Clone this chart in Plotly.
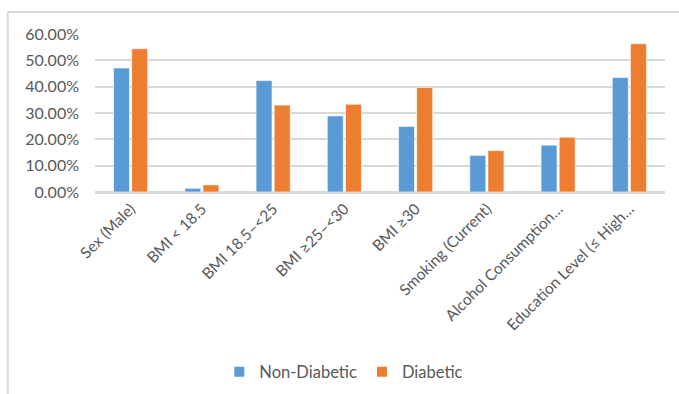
import plotly.graph_objects as go

categories = [
    "Sex (Male)",
    "BMI < 18.5",
    "BMI 18.5–<25",
    "BMI ≥25–<30",
    "BMI ≥30",
    "Smoking (Current)",
    "Alcohol Consumption…",
    "Education Level (≤ High…",
]
non_diabetic = [0.471, 0.014, 0.423, 0.289, 0.249, 0.139, 0.178, 0.435]
diabetic = [0.544, 0.027, 0.330, 0.333, 0.397, 0.157, 0.208, 0.563]

BLUE = "#5B9BD5"
ORANGE = "#ED7D31"
GRID = "#d9d9d9"
TEXT = "#595959"
FONT = "Lato, 'Liberation Sans', sans-serif"

fig = go.Figure()
fig.add_trace(go.Bar(name="Non-Diabetic", x=categories, y=non_diabetic,
                     marker=dict(color=BLUE, line=dict(color="white", width=0.6))))
fig.add_trace(go.Bar(name="Diabetic", x=categories, y=diabetic,
                     marker=dict(color=ORANGE, line=dict(color="white", width=0.6))))

# chart-area frame (top and left edges)
fig.add_shape(type="line", xref="paper", yref="paper", x0=-0.153, x1=1.1, y0=1.139, y1=1.139,
              line=dict(color=GRID, width=2))
fig.add_shape(type="line", xref="paper", yref="paper", x0=-0.153, x1=-0.153, y0=1.139, y1=-1.35,
              line=dict(color=GRID, width=2))

fig.update_layout(
    width=679, height=394,
    margin=dict(l=95, r=14, t=34, b=202, autoexpand=False),
    paper_bgcolor="white", plot_bgcolor="white",
    barmode="group", bargap=0.49, bargroupgap=0.12,
    font=dict(family=FONT, color=TEXT, size=13),
    showlegend=True,
    legend=dict(orientation="h", yref="container", xref="container",
                x=0.323, xanchor="left", y=0.056, yanchor="middle",
                font=dict(size=16.5, color=TEXT), itemwidth=30, traceorder="normal",
                itemsizing="constant"),
    xaxis=dict(tickangle=-45, tickfont=dict(size=15.5, color=TEXT), showgrid=False,
               showline=True, linecolor=GRID, linewidth=1.5, ticks=""),
    yaxis=dict(range=[0, 0.6], dtick=0.1, tickformat=".2%", showgrid=True, gridcolor=GRID,
               gridwidth=1.5, zeroline=True, zerolinecolor=GRID, zerolinewidth=1.5,
               tickfont=dict(size=16, color=TEXT), ticks="", ticklabelstandoff=15),
)

fig.write_html("out.html")
